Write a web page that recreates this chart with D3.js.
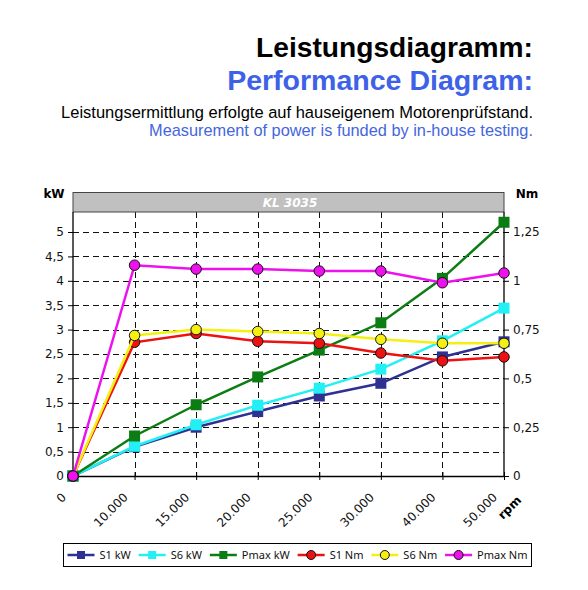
<!DOCTYPE html>
<html>
<head>
<meta charset="utf-8">
<script src="https://cdn.jsdelivr.net/npm/d3@7"></script>
<style>
    body { margin: 0; background: #fff; }
    svg { display: block; }
</style>
</head>
<body>
<script>
// chart data
var rpmLabels = ["0", "10.000", "15.000", "20.000", "25.000", "30.000", "40.000", "50.000"];

var s1kW   = [0, 0.60, 1.00, 1.32, 1.64, 1.90, 2.44, 2.75];
var s6kW   = [0, 0.61, 1.05, 1.45, 1.80, 2.19, 2.77, 3.44];
var pmaxkW = [0, 0.82, 1.46, 2.03, 2.58, 3.14, 4.05, 5.20];

var s1Nm   = [0, 0.685, 0.73, 0.69, 0.68, 0.63, 0.59, 0.61];
var s6Nm   = [0, 0.72, 0.75, 0.74, 0.73, 0.70, 0.68, 0.68];
var pmaxNm = [0, 1.08, 1.06, 1.06, 1.05, 1.05, 0.99, 1.04];

var seriesNames = ["S1 kW", "S6 kW", "Pmax kW", "S1 Nm", "S6 Nm", "Pmax Nm"];

var kWTicks = [0, 0.5, 1, 1.5, 2, 2.5, 3, 3.5, 4, 4.5, 5];
var nmTicks = [0, 0.25, 0.5, 0.75, 1, 1.25];

var chartTitle = "KL 3035";

function main() {

    var width = 588,
        height = 590;

    var svg = d3.select("body")
        .append("svg")
        .attr("width", width)
        .attr("height", height);

    // headings
    drawHeader(svg);

    // plot frame
    var left = 73, right = 504, top = 212, bottom = 476;

    var x = d3.scalePoint()
        .domain(rpmLabels)
        .range([left, right]);

    var yKW = d3.scaleLinear()
        .domain([0, 5.41])
        .range([bottom, top]);

    var yNm = d3.scaleLinear()
        .domain([0, 5.41 / 4])
        .range([bottom, top]);

    drawGrid(svg, x, yKW, left, right, top, bottom);
    drawAxes(svg, x, yKW, yNm, left, right, top, bottom);

    // series: [name, values, scale, color, marker]
    var series = [
        [seriesNames[0], s1kW, yKW, "#2e3192", "square"],
        [seriesNames[1], s6kW, yKW, "#22f0f4", "square"],
        [seriesNames[2], pmaxkW, yKW, "#0b7d12", "square"],
        [seriesNames[3], s1Nm, yNm, "#ee1111", "circle"],
        [seriesNames[4], s6Nm, yNm, "#f4f011", "circle"],
        [seriesNames[5], pmaxNm, yNm, "#ee11ee", "circle"]
    ];

    series.forEach(function (s) {
        drawSeries(svg, x, s[1], s[2], s[3], s[4]);
    });

    drawLegend(svg, series);
};

function fitText(sel, targetWidth) {
    // scale the font so the text spans the measured width
    var fs = parseFloat(sel.attr("font-size"));
    var w = sel.node().getComputedTextLength();
    sel.attr("font-size", (fs * targetWidth / w).toFixed(2));
};

function drawHeader(svg) {
    var font = "'Liberation Sans', Arial, sans-serif";

    var t1 = svg.append("text")
        .attr("x", 533).attr("y", 57)
        .attr("text-anchor", "end")
        .attr("font-family", font)
        .attr("font-weight", "bold")
        .attr("font-size", 27)
        .attr("fill", "#000")
        .text("Leistungsdiagramm:");
    fitText(t1, 277);

    var t2 = svg.append("text")
        .attr("x", 533).attr("y", 90)
        .attr("text-anchor", "end")
        .attr("font-family", font)
        .attr("font-weight", "bold")
        .attr("font-size", 27)
        .attr("fill", "#3d62e8")
        .text("Performance Diagram:");
    fitText(t2, 306);

    var t3 = svg.append("text")
        .attr("x", 533).attr("y", 118)
        .attr("text-anchor", "end")
        .attr("font-family", font)
        .attr("font-size", 14)
        .attr("fill", "#000")
        .text("Leistungsermittlung erfolgte auf hauseigenem Motorenprüfstand.");
    fitText(t3, 472);

    var t4 = svg.append("text")
        .attr("x", 533).attr("y", 135.5)
        .attr("text-anchor", "end")
        .attr("font-family", font)
        .attr("font-size", 14)
        .attr("fill", "#4466e0")
        .text("Measurement of power is funded by in-house testing.");
    fitText(t4, 384);
};

function drawGrid(svg, x, yKW, left, right, top, bottom) {
    var grid = svg.append("g")
        .attr("stroke", "#111")
        .attr("stroke-width", 1)
        .attr("stroke-dasharray", "6,4");

    // horizontal gridlines
    grid.selectAll(".hgrid")
        .data(kWTicks.slice(1))
        .enter()
        .append("line")
        .attr("x1", left).attr("x2", right)
        .attr("y1", function (d) { return Math.round(yKW(d)) + 0.5; })
        .attr("y2", function (d) { return Math.round(yKW(d)) + 0.5; });

    // vertical gridlines
    grid.selectAll(".vgrid")
        .data(rpmLabels.slice(1, -1))
        .enter()
        .append("line")
        .attr("x1", function (d) { return Math.round(x(d)) + 0.5; })
        .attr("x2", function (d) { return Math.round(x(d)) + 0.5; })
        .attr("y1", top).attr("y2", bottom);

    // title band on top of the plot
    svg.append("rect")
        .attr("x", left).attr("y", 192.5)
        .attr("width", right - left).attr("height", top - 192.5)
        .attr("fill", "#c0c0c0")
        .attr("stroke", "#444")
        .attr("stroke-width", 1);

    svg.append("text")
        .attr("x", 290).attr("y", 207)
        .attr("text-anchor", "middle")
        .attr("font-family", "'DejaVu Sans', sans-serif")
        .attr("font-size", 12)
        .attr("font-weight", "bold")
        .attr("font-style", "italic")
        .attr("fill", "#fff")
        .text(chartTitle);
};

function drawAxes(svg, x, yKW, yNm, left, right, top, bottom) {
    var fmt = function (d) { return String(d).replace(".", ","); };

    var axisL = d3.axisLeft(yKW)
        .tickValues(kWTicks)
        .tickFormat(fmt)
        .tickSize(5)
        .tickPadding(4);

    var axisR = d3.axisRight(yNm)
        .tickValues(nmTicks)
        .tickFormat(fmt)
        .tickSize(5)
        .tickPadding(4);

    var gL = svg.append("g")
        .attr("transform", "translate(" + left + ",0)")
        .call(axisL);

    var gR = svg.append("g")
        .attr("transform", "translate(" + right + ",0)")
        .call(axisR);

    [gL, gR].forEach(function (g) {
        g.select(".domain").attr("d", "M0," + top + "V" + bottom).attr("stroke", "#000").attr("stroke-width", 1.3);
        g.selectAll("text")
            .attr("font-family", "'DejaVu Sans', sans-serif")
            .attr("font-size", 12)
            .attr("fill", "#111");
    });

    // bottom axis with rotated labels
    var axisB = d3.axisBottom(x)
        .tickSizeInner(4)
        .tickSizeOuter(0)
        .tickFormat("");

    var gB = svg.append("g")
        .attr("transform", "translate(0," + bottom + ")")
        .call(axisB);
    gB.select(".domain").attr("stroke", "#000").attr("stroke-width", 1.3);
    gB.selectAll(".tick line").attr("y1", -4).attr("y2", 4);

    svg.selectAll(".xlab")
        .data(rpmLabels)
        .enter()
        .append("text")
        .attr("transform", function (d) {
            return "translate(" + (x(d) - 6) + "," + (bottom + 22) + ") rotate(-45)";
        })
        .attr("text-anchor", "end")
        .attr("font-family", "'DejaVu Sans', sans-serif")
        .attr("font-size", 12)
        .attr("fill", "#111")
        .text(function (d) { return d; });

    // unit labels
    var unit = function (txt, tx, ty, rot) {
        svg.append("text")
            .attr("transform", "translate(" + tx + "," + ty + ")" + (rot ? " rotate(-45)" : ""))
            .attr("text-anchor", rot ? "end" : "middle")
            .attr("font-family", "'DejaVu Sans', sans-serif")
            .attr("font-size", 12)
            .attr("font-weight", "bold")
            .attr("fill", "#000")
            .text(txt);
    };
    unit("kW", 54, 198, false);
    unit("Nm", 527, 198, false);
    unit("rpm", 522, 501, true);
};

function drawMarker(g, type, cx, cy, color, size) {
    if (type == "square") {
        g.append("rect")
            .attr("x", cx - size / 2).attr("y", cy - size / 2)
            .attr("width", size).attr("height", size)
            .attr("fill", color);
    } else {
        g.append("circle")
            .attr("cx", cx).attr("cy", cy)
            .attr("r", size / 2)
            .attr("fill", color)
            .attr("stroke", "#111")
            .attr("stroke-width", 1);
    };
};

function drawSeries(svg, x, values, y, color, marker) {
    var g = svg.append("g");

    var line = d3.line()
        .x(function (d, i) { return x(rpmLabels[i]); })
        .y(function (d) { return y(d); });

    g.append("path")
        .datum(values)
        .attr("d", line)
        .attr("fill", "none")
        .attr("stroke", color)
        .attr("stroke-width", 2.5);

    values.forEach(function (v, i) {
        drawMarker(g, marker, x(rpmLabels[i]), y(v), color, marker == "square" ? 11 : 10.5);
    });
};

function drawLegend(svg, series) {
    var lg = svg.append("g");
    var boxX = 63.5, boxW = 468;

    lg.append("rect")
        .attr("x", boxX).attr("y", 543.5)
        .attr("width", boxW).attr("height", 23)
        .attr("fill", "#fff")
        .attr("stroke", "#000")
        .attr("stroke-width", 1);

    // first pass: texts, to know how much room is left between the items
    var cy = 555;
    var texts = series.map(function (s) {
        return lg.append("text")
            .attr("y", cy + 4)
            .attr("font-family", "'Noto Sans', sans-serif")
            .attr("font-size", 11)
            .attr("fill", "#111")
            .text(s[0]);
    });
    var widths = texts.map(function (t) { return t.node().getComputedTextLength(); });
    var used = d3.sum(widths) + series.length * 32;
    var gap = (boxW - 8 - used) / (series.length - 1);

    var cx = boxX + 4;
    series.forEach(function (s, i) {
        lg.append("line")
            .attr("x1", cx).attr("x2", cx + 27)
            .attr("y1", cy).attr("y2", cy)
            .attr("stroke", s[3])
            .attr("stroke-width", 2.5);
        drawMarker(lg, s[4], cx + 13.5, cy, s[3], s[4] == "square" ? 8 : 9);

        texts[i].attr("x", cx + 32);
        cx = cx + 32 + widths[i] + gap;
    });
};

window.onload = main();
</script>
</body>
</html>
